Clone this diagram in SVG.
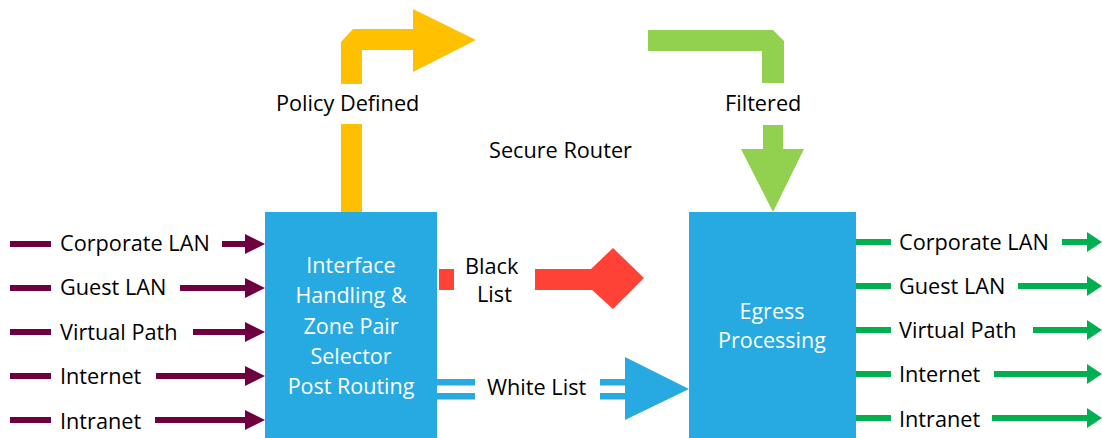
<svg xmlns="http://www.w3.org/2000/svg" width="1102" height="438" viewBox="0 0 1102 438">
<style>
.t{font-family:"Open Sans","Liberation Sans",sans-serif;font-size:21.7px;fill:#000}
.w{font-family:"Open Sans","Liberation Sans",sans-serif;font-size:21.5px;fill:#fff;text-anchor:middle}
.p{fill:#6E0040}
.g{fill:#00B050}
</style>
<rect width="1102" height="438" fill="#fff"/>
<g id="connectors">
  <!-- Policy defined (yellow) -->
  <rect x="341" y="124" width="21" height="88" fill="#FFC000"/>
  <polygon fill="#FFC000" points="341,84 341,42 353,29 413,29 413,9 476,40 413,72 413,50 362,50 362,84"/>
  <!-- Filtered (green) -->
  <polygon fill="#92D050" points="648,30 773,30 784,41 784,83 762,83 762,51 648,51"/>
  <polygon fill="#92D050" points="763,125 783,125 783,149 804,149 773,212 741,149 763,149"/>
  <!-- Black list (red) -->
  <rect x="439" y="269" width="15" height="21" fill="#FF4136"/>
  <polygon fill="#FF4136" points="535,269 591,269 613,248 644,278 613,309 592,290 535,290"/>
  <!-- White list (blue) -->
  <rect x="437" y="379" width="38" height="6.5" fill="#27A9E1"/>
  <rect x="437" y="393" width="38" height="6.5" fill="#27A9E1"/>
  <rect x="600" y="379" width="27" height="6.5" fill="#27A9E1"/>
  <rect x="600" y="393" width="27" height="6.5" fill="#27A9E1"/>
  <polygon fill="#27A9E1" points="625,357 689,389 625,420"/>
  <!-- Inputs (purple) -->
  <g class="p">
    <rect x="10" y="241" width="41" height="6"/>
    <polygon points="222,241 245,241 245,234 265,244 245,254 245,247 222,247"/>
    <rect x="10" y="285" width="41" height="6"/>
    <polygon points="180,285 245,285 245,278 265,288 245,298 245,291 180,291"/>
    <rect x="10" y="329" width="41" height="6"/>
    <polygon points="193,329 245,329 245,322 265,332 245,342 245,335 193,335"/>
    <rect x="10" y="373" width="41" height="6"/>
    <polygon points="156,373 245,373 245,366 265,376 245,386 245,379 156,379"/>
    <rect x="10" y="417" width="41" height="6"/>
    <polygon points="155,417 245,417 245,410 265,420 245,430 245,423 155,423"/>
  </g>
  <!-- Outputs (green) -->
  <g class="g">
    <rect x="855" y="239" width="36" height="6"/>
    <polygon points="1062,239 1087,239 1087,232 1102,242 1087,252 1087,245 1062,245"/>
    <rect x="855" y="283" width="36" height="6"/>
    <polygon points="1018,283 1087,283 1087,276 1102,286 1087,296 1087,289 1018,289"/>
    <rect x="855" y="327" width="36" height="6"/>
    <polygon points="1033,327 1087,327 1087,320 1102,330 1087,340 1087,333 1033,333"/>
    <rect x="855" y="371" width="36" height="6"/>
    <polygon points="994,371 1087,371 1087,364 1102,374 1087,384 1087,377 994,377"/>
    <rect x="855" y="415" width="36" height="6"/>
    <polygon points="992,415 1087,415 1087,408 1102,418 1087,428 1087,421 992,421"/>
  </g>
</g>
<g id="node-interface">
  <rect x="265" y="212" width="172" height="230" fill="#27A9E1"/>
  <text class="w" x="351" y="273">Interface</text>
  <text class="w" x="351" y="303">Handling &amp;</text>
  <text class="w" x="351" y="334">Zone Pair</text>
  <text class="w" x="351" y="364">Selector</text>
  <text class="w" x="351" y="394">Post Routing</text>
</g>
<g id="node-egress">
  <rect x="689" y="212" width="167" height="230" fill="#27A9E1"/>
  <text class="w" x="772" y="319">Egress</text>
  <text class="w" x="772" y="348">Processing</text>
</g>
<g id="labels">
  <text class="t" x="276" y="111">Policy Defined</text>
  <text class="t" x="725" y="111">Filtered</text>
  <text class="t" x="489" y="158">Secure Router</text>
  <text class="t" x="465" y="274">Black</text>
  <text class="t" x="477" y="302">List</text>
  <text class="t" x="487" y="395">White List</text>
  <text class="t" x="60" y="251">Corporate LAN</text>
  <text class="t" x="60" y="295">Guest LAN</text>
  <text class="t" x="60" y="340">Virtual Path</text>
  <text class="t" x="60" y="384">Internet</text>
  <text class="t" x="60" y="429">Intranet</text>
  <text class="t" x="899" y="250">Corporate LAN</text>
  <text class="t" x="899" y="294">Guest LAN</text>
  <text class="t" x="899" y="338">Virtual Path</text>
  <text class="t" x="899" y="382">Internet</text>
  <text class="t" x="899" y="427">Intranet</text>
</g>
</svg>
